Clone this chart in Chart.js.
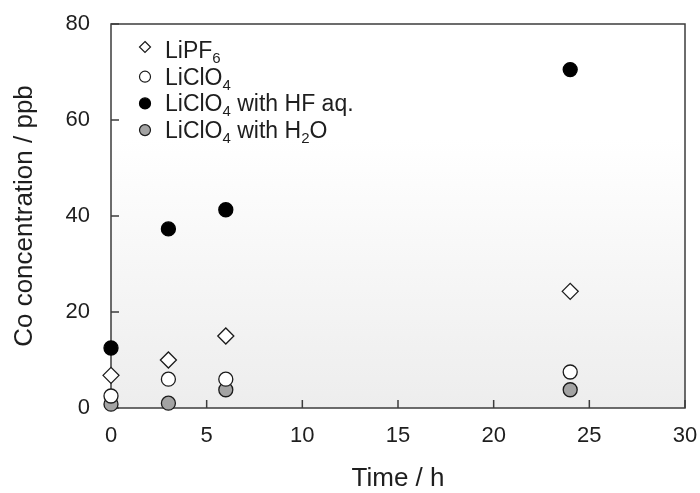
<!DOCTYPE html>
<html lang="en">
<head>
    <meta charset="UTF-8">
    <title>Co concentration vs time</title>
    <style>
        html, body {
            margin: 0;
            padding: 0;
            background: #ffffff;
        }

        .chart-box {
            width: 700px;
            height: 493px;
        }
    </style>
</head>
<body>
    <div class="chart-box">
        <canvas id="coChart" width="700" height="493"></canvas>
    </div>

    <script src="https://cdn.jsdelivr.net/npm/chart.js"></script>
    <script>
        // Sampling times (h)
        const hours = [0, 3, 6, 24];

        // Co concentration (ppb) per electrolyte
        const lipf6 = [6.8, 10.0, 15.0, 24.3];
        const liclo4 = [2.5, 6.0, 6.0, 7.5];
        const liclo4HF = [12.5, 37.3, 41.3, 70.5];
        const liclo4H2O = [0.8, 1.0, 3.8, 3.8];

        // Axis ticks
        const xTickValues = [0, 5, 10, 15, 20, 25, 30];
        const yTickValues = [0, 20, 40, 60, 80];

        // Legend text, split so the digits can be set as subscripts
        const legendParts = [
            [['LiPF', false], ['6', true]],
            [['LiClO', false], ['4', true]],
            [['LiClO', false], ['4', true], [' with HF aq.', false]],
            [['LiClO', false], ['4', true], [' with H', false], ['2', true], ['O', false]]
        ];

        const FONT = '"Liberation Sans", Arial, sans-serif';
        const TEXT = '#1e1e1e';

        function toPoints(ys) {
            return hours.map((h, i) => ({ x: h, y: ys[i] }));
        }

        function labelOf(parts) {
            return parts.map(p => p[0]).join('');
        }

        // keep the plot area where the layout padding puts it
        function noLabelOverflow(s) {
            s.paddingTop = 0;
            s.paddingBottom = 0;
            s.paddingLeft = 0;
            s.paddingRight = 0;
        }

        // Gradient plot area, frame and inward tick marks
        const plotFrame = {
            id: 'plotFrame',
            beforeDatasetsDraw(chart) {
                const { ctx, chartArea: a, scales } = chart;
                ctx.save();
                const g = ctx.createLinearGradient(0, a.top, 0, a.bottom);
                g.addColorStop(0, '#ffffff');
                g.addColorStop(0.3, '#ffffff');
                g.addColorStop(1, '#ededed');
                ctx.fillStyle = g;
                ctx.fillRect(a.left, a.top, a.right - a.left, a.bottom - a.top);

                ctx.strokeStyle = '#3c3c3c';
                ctx.lineWidth = 1.5;
                ctx.strokeRect(a.left, a.top, a.right - a.left, a.bottom - a.top);

                ctx.beginPath();
                xTickValues.forEach(v => {
                    const x = scales.x.getPixelForValue(v);
                    ctx.moveTo(x, a.bottom);
                    ctx.lineTo(x, a.bottom - 8);
                });
                yTickValues.forEach(v => {
                    const y = scales.y.getPixelForValue(v);
                    ctx.moveTo(a.left, y);
                    ctx.lineTo(a.left + 8, y);
                });
                ctx.stroke();
                ctx.restore();
            }
        };

        // Legend drawn by hand so chemical formulas get subscripts
        const formulaLegend = {
            id: 'formulaLegend',
            afterDraw(chart) {
                const { ctx, chartArea: a } = chart;
                chart.data.datasets.forEach((ds, i) => {
                    const mx = a.left + 34;
                    const my = a.top + 26 + i * 26.7;
                    ctx.save();
                    ctx.lineWidth = 1.2;
                    ctx.strokeStyle = ds.pointBorderColor;
                    ctx.fillStyle = ds.pointBackgroundColor;
                    ctx.beginPath();
                    if (ds.pointStyle === 'rectRot') {
                        const r = 5.5;
                        const dy = my - 3;
                        ctx.moveTo(mx, dy - r);
                        ctx.lineTo(mx + r, dy);
                        ctx.lineTo(mx, dy + r);
                        ctx.lineTo(mx - r, dy);
                        ctx.closePath();
                    } else {
                        ctx.arc(mx, my, 5.5, 0, Math.PI * 2);
                    }
                    ctx.fill();
                    ctx.stroke();

                    let tx = a.left + 54;
                    const base = my + 8;
                    ctx.fillStyle = TEXT;
                    ctx.textBaseline = 'alphabetic';
                    ctx.textAlign = 'left';
                    legendParts[i].forEach(([txt, sub]) => {
                        ctx.font = (sub ? '15px ' : '23px ') + FONT;
                        ctx.fillText(txt, tx, sub ? base + 5 : base);
                        tx += ctx.measureText(txt).width;
                    });
                    ctx.restore();
                });
            }
        };

        const ctx = document.getElementById('coChart').getContext('2d');

        new Chart(ctx, {
            type: 'scatter',
            data: {
                datasets: [{
                    label: labelOf(legendParts[0]),
                    data: toPoints(lipf6),
                    pointStyle: 'rectRot',
                    pointRadius: 8,
                    pointBackgroundColor: '#ffffff',
                    pointBorderColor: '#1a1a1a',
                    pointBorderWidth: 1.3,
                    clip: false
                }, {
                    label: labelOf(legendParts[1]),
                    data: toPoints(liclo4),
                    pointStyle: 'circle',
                    pointRadius: 7,
                    pointBackgroundColor: '#ffffff',
                    pointBorderColor: '#1a1a1a',
                    pointBorderWidth: 1.3,
                    clip: false
                }, {
                    label: labelOf(legendParts[2]),
                    data: toPoints(liclo4HF),
                    pointStyle: 'circle',
                    pointRadius: 7,
                    pointBackgroundColor: '#000000',
                    pointBorderColor: '#000000',
                    pointBorderWidth: 1.3,
                    clip: false
                }, {
                    label: labelOf(legendParts[3]),
                    data: toPoints(liclo4H2O),
                    pointStyle: 'circle',
                    pointRadius: 7,
                    pointBackgroundColor: '#a3a3a3',
                    pointBorderColor: '#1a1a1a',
                    pointBorderWidth: 1.3,
                    clip: false
                }]
            },
            options: {
                responsive: false,
                animation: false,
                layout: {
                    padding: { top: 24, right: 15, left: 0, bottom: 0 }
                },
                plugins: {
                    legend: { display: false },
                    tooltip: { enabled: false }
                },
                scales: {
                    x: {
                        type: 'linear',
                        min: 0,
                        max: 30,
                        afterBuildTicks: s => { s.ticks = xTickValues.map(v => ({ value: v })); },
                        afterFit: s => { s.height = 85; noLabelOverflow(s); },
                        grid: { display: false, drawTicks: false },
                        border: { display: false },
                        ticks: {
                            padding: 15,
                            color: TEXT,
                            font: { family: FONT, size: 22 }
                        },
                        title: {
                            display: true,
                            text: 'Time / h',
                            color: TEXT,
                            font: { family: FONT, size: 26 },
                            padding: { top: 0, bottom: -1 }
                        }
                    },
                    y: {
                        type: 'linear',
                        min: 0,
                        max: 80,
                        afterBuildTicks: s => { s.ticks = yTickValues.map(v => ({ value: v })); },
                        afterFit: s => { s.width = 111; noLabelOverflow(s); },
                        grid: { display: false, drawTicks: false },
                        border: { display: false },
                        ticks: {
                            padding: 21,
                            color: TEXT,
                            font: { family: FONT, size: 22 }
                        },
                        title: {
                            display: true,
                            text: 'Co concentration / ppb',
                            color: TEXT,
                            font: { family: FONT, size: 26 },
                            padding: { top: 9, bottom: 0 }
                        }
                    }
                }
            },
            plugins: [plotFrame, formulaLegend]
        });
    </script>
</body>
</html>
